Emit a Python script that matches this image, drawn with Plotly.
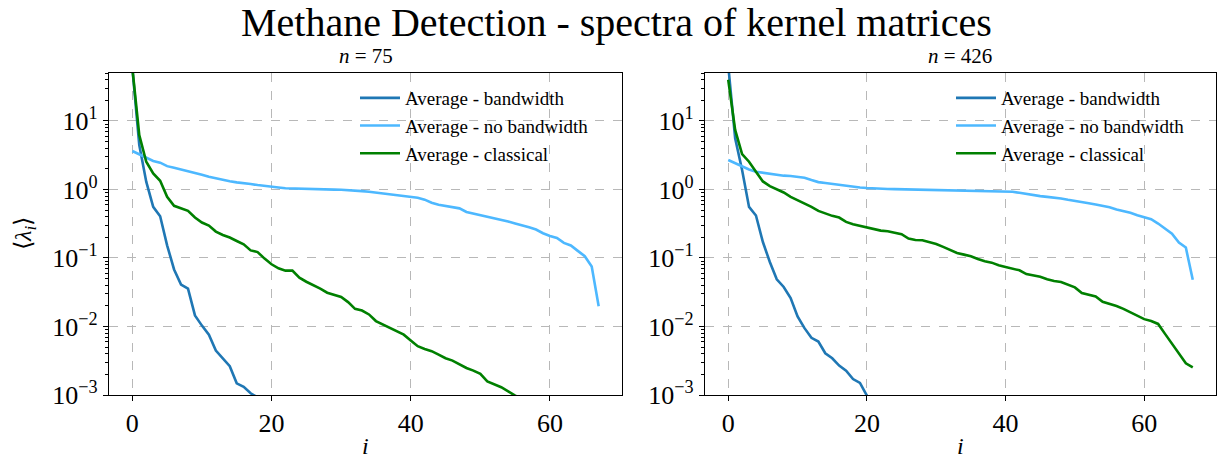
import plotly.graph_objects as go
from plotly.subplots import make_subplots

# ---------------- data ----------------
# n = 75 panel
left_bandwidth = [60, 4.45, 1.3, 0.557, 0.407, 0.153, 0.068, 0.041, 0.0356, 0.0145,
                  0.0103, 0.0076, 0.00446, 0.00344, 0.00263, 0.00148, 0.00132, 0.00106, 0.00092, 0.0008]
left_nobandwidth = [3.64, 3.25, 2.84, 2.6, 2.46, 2.19, 2.07, 1.96, 1.81, 1.75,
                    1.64, 1.53, 1.45, 1.38, 1.32, 1.27, 1.22, 1.2, 1.16, 1.12,
                    1.09, 1.07, 1.04, 1.03, 1.02, 1.01, 1.0, 1.0, 1.0, 0.995,
                    0.99, 0.98, 0.96, 0.945, 0.925, 0.90, 0.88, 0.855, 0.83, 0.80,
                    0.77, 0.755, 0.71, 0.64, 0.60, 0.58, 0.56, 0.53, 0.47, 0.445,
                    0.42, 0.40, 0.38, 0.365, 0.34, 0.318, 0.30, 0.28, 0.26, 0.23,
                    0.21, 0.196, 0.166, 0.152, 0.127, 0.106, 0.075, 0.0198]
left_classical = [60, 6.2, 2.54, 1.71, 1.34, 0.78, 0.577, 0.533, 0.487, 0.39,
                  0.329, 0.297, 0.243, 0.217, 0.199, 0.177, 0.158, 0.129, 0.122, 0.098,
                  0.081, 0.0706, 0.0653, 0.0653, 0.0515, 0.045, 0.0403, 0.0356, 0.0311, 0.029,
                  0.0269, 0.0227, 0.0181, 0.0171, 0.015, 0.012, 0.0107, 0.0098, 0.0085, 0.0076,
                  0.00624, 0.00515, 0.0047, 0.00436, 0.00389, 0.00344, 0.00318, 0.00278, 0.00248, 0.00227,
                  0.00203, 0.00158, 0.00145, 0.0013, 0.00113, 0.00098, 0.00088]

# n = 426 panel
right_bandwidth = [65, 5.57, 1.92, 0.557, 0.417, 0.171, 0.0873, 0.0488, 0.0377, 0.026,
                   0.014, 0.00946, 0.00683, 0.00603, 0.00407, 0.00344, 0.00269, 0.00227, 0.00171, 0.0015,
                   0.00098, 0.0008]
right_nobandwidth = [2.69, 2.4, 2.19, 1.96, 1.81, 1.75, 1.69, 1.64, 1.59, 1.57,
                     1.53, 1.48, 1.37, 1.28, 1.24, 1.2, 1.17, 1.13, 1.09, 1.07,
                     1.05, 1.03, 1.02, 1.015, 1.01, 1.005, 1.0, 1.0, 1.0, 0.995,
                     0.993, 0.99, 0.985, 0.978, 0.97, 0.967, 0.967, 0.962, 0.956, 0.95,
                     0.945, 0.924, 0.894, 0.855, 0.817, 0.799, 0.78, 0.765, 0.738, 0.706,
                     0.683, 0.652, 0.631, 0.603, 0.577, 0.552, 0.51, 0.488, 0.456, 0.421,
                     0.389, 0.368, 0.318, 0.266, 0.227, 0.168, 0.142, 0.048]
right_classical = [40, 7.4, 3.29, 2.54, 1.81, 1.31, 1.12, 1.01, 0.904, 0.78,
                   0.698, 0.638, 0.557, 0.487, 0.445, 0.412, 0.389, 0.336, 0.311, 0.294,
                   0.284, 0.263, 0.251, 0.246, 0.232, 0.222, 0.192, 0.183, 0.181, 0.171,
                   0.16, 0.145, 0.132, 0.118, 0.112, 0.106, 0.0966, 0.0893, 0.0855, 0.0781,
                   0.0738, 0.0698, 0.066, 0.0583, 0.0557, 0.0533, 0.0488, 0.046, 0.0446, 0.0403,
                   0.0372, 0.0308, 0.0288, 0.0275, 0.023, 0.0215, 0.0199, 0.0181, 0.0162, 0.0145,
                   0.0128, 0.012, 0.0109, 0.0078, 0.00557, 0.00398, 0.0029, 0.00254]

series_names = ["Average - bandwidth", "Average - no bandwidth", "Average - classical"]
series_colors = ["#1f77b4", "#4db8ff", "#008000"]
panel_titles = ["<i>n</i> = 75", "<i>n</i> = 426"]
main_title = "Methane Detection - spectra of kernel matrices"
x_ticks = [0, 20, 40, 60]
y_ticks = [1e-3, 1e-2, 1e-1, 1, 10]
y_ticktext = ["10<sup>−3</sup>", "10<sup>−2</sup>", "10<sup>−1</sup>", "10<sup>0</sup>", "10<sup>1</sup>"]

FONT = "Liberation Serif"

fig = make_subplots(rows=1, cols=2, horizontal_spacing=0.075)

panels = [
    [left_bandwidth, left_nobandwidth, left_classical],
    [right_bandwidth, right_nobandwidth, right_classical],
]
for p, data in enumerate(panels):
    for s, vals in enumerate(data):
        fig.add_trace(
            go.Scatter(
                x=list(range(len(vals))), y=vals, mode="lines",
                name=series_names[s],
                line=dict(color=series_colors[s], width=2.6),
                legend="legend" if p == 0 else "legend2",
            ),
            row=1, col=p + 1,
        )

W, H = 1217, 463
ML, MR, MT, MB = 109, 1, 73, 68
pw = W - ML - MR
ph = H - MT - MB


def px_x(px):
    return (px - ML) / pw


def px_y(py):
    return (H - MB - py) / ph


dom1 = [0, px_x(622)]
dom2 = [px_x(705), 1]

minor_vals = [m * 10.0 ** e for e in range(-3, 2) for m in range(2, 10)]

axis_common = dict(
    showline=True, linecolor="black", linewidth=1.2, mirror=True,
    ticks="outside", ticklen=5, tickwidth=1.2, tickcolor="black",
    showgrid=True, gridcolor="#b8b8b8", griddash="dash", gridwidth=1,
    zeroline=False,
    tickfont=dict(family=FONT, size=26, color="black"),
)

for i, dom in enumerate([dom1, dom2]):
    xa = "xaxis" if i == 0 else "xaxis2"
    ya = "yaxis" if i == 0 else "yaxis2"
    fig.layout[xa].update(domain=dom, range=[-3.35, 70.35], tickvals=x_ticks, **axis_common)
    fig.layout[ya].update(
        type="log", range=[-3, 1.7], tickvals=y_ticks, ticktext=y_ticktext,
        minor=dict(ticks="outside", ticklen=3, tickcolor="black", tickvals=minor_vals, showgrid=False),
        **axis_common,
    )

annotations = [
    dict(text=main_title, x=616, y=22, size=40),
    dict(text=panel_titles[0], x=(109 + 622) / 2, y=56, size=21),
    dict(text=panel_titles[1], x=(705 + 1216) / 2, y=56, size=21),
    dict(text="<i>i</i>", x=(109 + 622) / 2, y=446, size=24),
    dict(text="<i>i</i>", x=(705 + 1216) / 2, y=446, size=24),
    dict(text="⟨<i>λ<sub>i</sub></i>⟩", x=25, y=234, size=24, angle=-90),
]
for a in annotations:
    fig.add_annotation(
        text=a["text"], x=px_x(a["x"]), y=px_y(a["y"]), xref="paper", yref="paper",
        xanchor="center", yanchor="middle", showarrow=False, textangle=a.get("angle", 0),
        font=dict(family=FONT, color="black", size=a["size"]),
    )

legend_common = dict(
    bgcolor="rgba(0,0,0,0)", borderwidth=0, yanchor="top", xanchor="left",
    font=dict(family=FONT, size=19, color="black"), tracegroupgap=0, itemwidth=40,
)
fig.update_layout(
    width=W, height=H,
    margin=dict(l=ML, r=MR, t=MT, b=MB),
    paper_bgcolor="white", plot_bgcolor="white",
    font=dict(family=FONT, color="black"),
    legend=dict(x=px_x(355), y=px_y(79), **legend_common),
    legend2=dict(x=px_x(951), y=px_y(79), **legend_common),
    showlegend=True,
)

fig.write_html("out.html")
